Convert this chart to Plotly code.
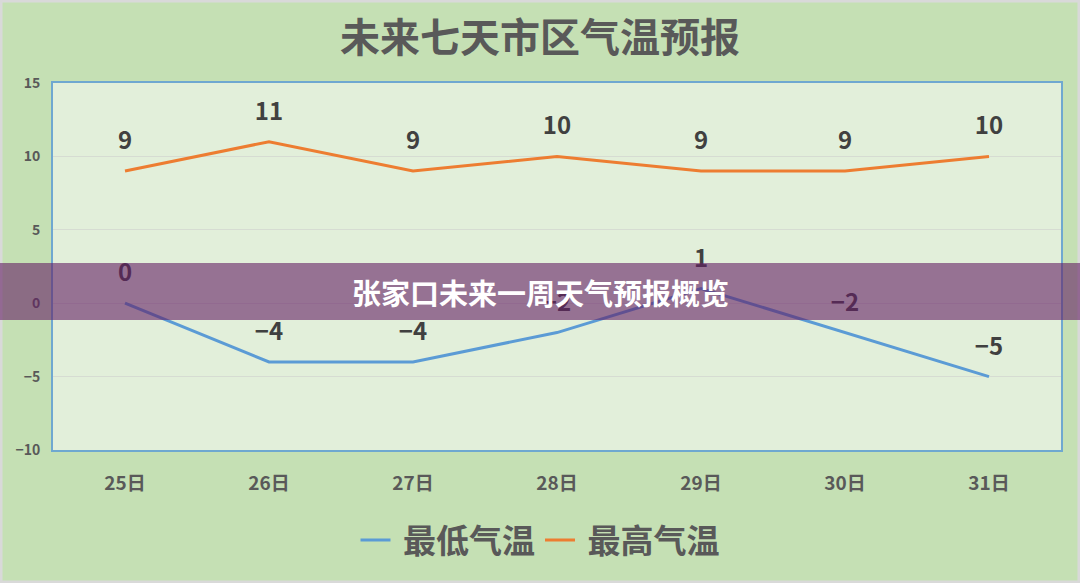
import plotly.graph_objects as go

days = ["25日", "26日", "27日", "28日", "29日", "30日", "31日"]
low_temps = [0, -4, -4, -2, 1, -2, -5]
high_temps = [9, 11, 9, 10, 9, 9, 10]
y_ticks = [-10, -5, 0, 5, 10, 15]

FONT = "Noto Sans CJK SC, Noto Sans, sans-serif"
W, H = 1080, 583
ML, MR, MT, MB = 53, 19, 83, 133
PW, PH = W - ML - MR, H - MT - MB


def lbl(v):
    return str(v).replace("-", "\u2212")


fig = go.Figure()
for name, vals, color in [("最低气温", low_temps, "#5b9bd5"), ("最高气温", high_temps, "#ed7d31")]:
    fig.add_trace(go.Scatter(
        x=days, y=vals, name=" " + name, mode="lines+markers+text",
        line=dict(color=color, width=3),
        marker=dict(size=24, color="rgba(0,0,0,0)"),
        text=[lbl(v) for v in vals], textposition="top center",
        textfont=dict(family=FONT, size=24, color="#404040", weight="bold"),
        cliponaxis=False,
    ))


def px_x(p):
    return (p - ML) / PW


def px_y(p):
    return (H - MB - p) / PH


shapes = [
    # overlay band
    dict(type="rect", xref="paper", yref="paper", x0=px_x(0), x1=px_x(W),
         y0=px_y(320), y1=px_y(263), fillcolor="rgba(100,30,100,0.6)",
         line=dict(width=0), layer="above"),
    # outer frame
    dict(type="rect", xref="paper", yref="paper", x0=px_x(1), x1=px_x(W - 1),
         y0=px_y(H - 1), y1=px_y(1), line=dict(color="#d9d9d9", width=3),
         fillcolor="rgba(0,0,0,0)", layer="below"),
]

fig.update_layout(
    width=W, height=H,
    margin=dict(l=ML, r=MR, t=MT, b=MB),
    paper_bgcolor="#c5e0b4", plot_bgcolor="#e2efda",
    font=dict(family=FONT, color="#595959"),
    title=dict(text="未来七天市区气温预报", x=0.5, xref="container", xanchor="center",
               y=1 - 38 / H, yref="container", yanchor="middle",
               font=dict(family=FONT, size=40, color="#595959", weight="bold")),
    legend=dict(orientation="h", xref="container", x=0.5, xanchor="center",
                yref="container", y=1 - 540 / H, yanchor="middle",
                font=dict(family=FONT, size=33, color="#595959", weight="bold"),
                bgcolor="rgba(0,0,0,0)", itemwidth=30),
    showlegend=True,
    shapes=shapes,
    annotations=[dict(text="张家口未来一周天气预报概览", xref="paper", yref="paper",
                      x=px_x(540), y=px_y(292), xanchor="center", yanchor="middle",
                      showarrow=False,
                      font=dict(family=FONT, size=29, color="white", weight="bold"))],
)

fig.update_xaxes(
    type="category", range=[-0.5, 6.5], showgrid=False,
    showline=True, linecolor="#6fa8d0", linewidth=2, mirror=True,
    tickfont=dict(family=FONT, size=19, color="#595959", weight="bold"),
    ticks="", ticklabelstandoff=15,
)
fig.update_yaxes(
    range=[-10, 15], tickvals=y_ticks, showgrid=True, gridcolor="#d6dcd2", gridwidth=1,
    zeroline=False,
    showline=True, linecolor="#6fa8d0", linewidth=2, mirror=True,
    tickfont=dict(family=FONT, size=14, color="#595959", weight="bold"),
    ticks="", ticklabelstandoff=8,
)

fig.write_html("out.html")
